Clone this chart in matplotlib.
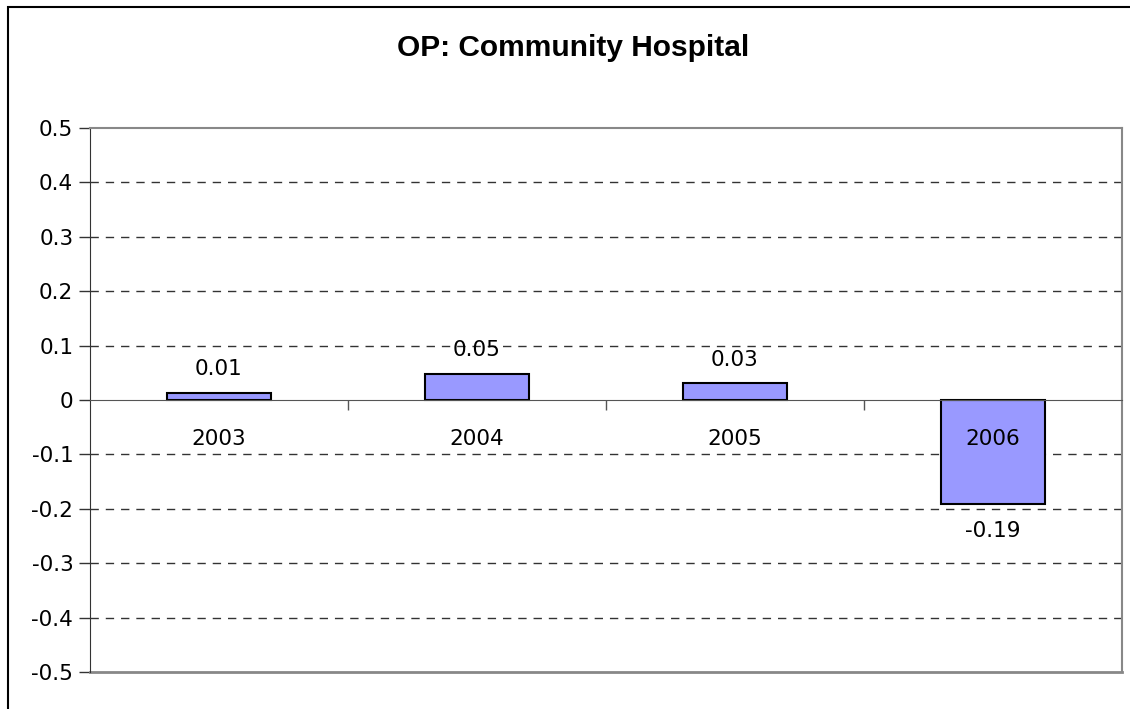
import matplotlib.pyplot as plt
from matplotlib.patches import Rectangle
from matplotlib.ticker import FixedLocator

years = ['2003', '2004', '2005', '2006']
op_values = [0.013, 0.048, 0.031, -0.192]
y_ticks = [-0.5, -0.4, -0.3, -0.2, -0.1, 0, 0.1, 0.2, 0.3, 0.4, 0.5]
y_labels = ['-0.5', '-0.4', '-0.3', '-0.2', '-0.1', '0', '0.1', '0.2', '0.3', '0.4', '0.5']

fig = plt.figure(figsize=(11.3, 7.09), dpi=100)
ax = fig.add_axes([90 / 1130, 37 / 709, 1032 / 1130, 544 / 709])

# outer chart border (runs off the right/bottom edge)
fig.patches.append(Rectangle((8 / 1130, -0.1), 1.2, (709 - 7) / 709 + 0.1,
                             transform=fig.transFigure, fill=False,
                             edgecolor='black', linewidth=1.5))

x = list(range(len(years)))
bars = ax.bar(x, op_values, width=0.4, color='#9999FF', edgecolor='black',
              linewidth=1.5, zorder=2)

ax.set_xlim(-0.5, len(years) - 0.5)
ax.set_ylim(-0.5, 0.5)

# dashed grid
for t in y_ticks[1:-1]:
    if t != 0:
        ax.axhline(t, color='#333333', linestyle=(0, (6, 5)), linewidth=1, zorder=1)

ax.set_yticks(y_ticks)
ax.set_yticklabels(y_labels)
ax.tick_params(axis='y', length=8, width=1, color='#333333', labelsize=15.5, pad=4)

# category axis sits on zero, labels drawn over the bars
ax.spines['bottom'].set_position(('data', 0))
ax.spines['bottom'].set_color('#555555')
ax.spines['bottom'].set_zorder(4)
ax.xaxis.set_zorder(5)
ax.set_xticks(x)
ax.set_xticklabels(years)
ax.tick_params(axis='x', which='major', length=0, labelsize=15.5, pad=21)
ax.xaxis.set_minor_locator(FixedLocator([0.5, 1.5, 2.5]))
ax.tick_params(axis='x', which='minor', length=7, width=1, color='#555555', direction='out')

ax.spines['left'].set_color('#333333')
ax.spines['top'].set_color('#888888')
ax.spines['right'].set_color('#888888')
ax.spines['top'].set_linewidth(1.5)
ax.spines['right'].set_linewidth(1.5)
ax.axhline(-0.5, color='#888888', linewidth=2, clip_on=False, zorder=2)

for xi, v in zip(x, op_values):
    off = 17 if v >= 0 else -19
    ax.annotate('%.2f' % v, (xi, v), xytext=(0, off), textcoords='offset points',
                ha='center', va='center', fontsize=15.5, zorder=5)

fig.text(573 / 1130, 1 - 48 / 709, 'OP: Community Hospital', ha='center', va='center',
         fontsize=21.5, fontweight='bold', family='Liberation Sans')

fig.savefig('out.png', dpi=100)
